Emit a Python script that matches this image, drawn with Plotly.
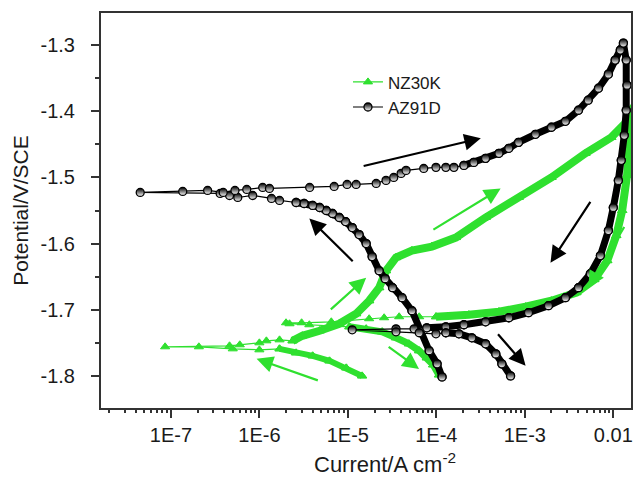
import math
import plotly.graph_objects as go

# ---------------- NZ30K (current density A/cm2, potential V vs SCE), scan order ----------------
nz_cath_fwd_i = [1.45e-5, 9.6e-6, 6.2e-6, 4.0e-6, 2.6e-6, 1.69e-6]
nz_cath_fwd_e = [-1.800, -1.7879, -1.7773, -1.7697, -1.7652, -1.7591]
nz_ecorr_i = [1.0e-6, 5.0e-7, 2.07e-7, 8.6e-8, 4.6e-7, 6.0e-7, 1.0e-6, 1.2e-6, 1.69e-6]
nz_ecorr_e = [-1.7606, -1.7591, -1.756, -1.756, -1.7545, -1.753, -1.750, -1.747, -1.7455]
nz_anod_i = [2.37e-6, 3.06e-6, 4.8e-6, 8.0e-6, 1.24e-5, 1.74e-5, 2.26e-5, 2.7e-5, 3.5e-5,
             5.3e-5, 8.9e-5, 1.66e-4, 3.6e-4, 8.5e-4, 2.0e-3, 4.84e-3, 9.5e-3, 1.36e-2, 1.6e-2]
nz_anod_e = [-1.747, -1.7394, -1.7318, -1.7212, -1.706, -1.6864, -1.6667, -1.641, -1.6212,
             -1.6106, -1.6045, -1.5909, -1.5606, -1.5303, -1.500, -1.4636, -1.4394, -1.4182, -1.3955]
nz_rev_i = [1.55e-2, 1.51e-2, 1.43e-2, 1.26e-2, 1.08e-2, 8.55e-3, 6.1e-3, 3.83e-3, 2.0e-3,
            1.02e-3, 5.1e-4, 2.33e-4, 9.9e-5]
nz_rev_e = [-1.4061, -1.4515, -1.497, -1.550, -1.5879, -1.6258, -1.6545, -1.6742, -1.6864,
            -1.6955, -1.703, -1.7076, -1.7106]
nz_rev_low_i = [6.4e-5, 3.8e-5, 2.57e-5, 1.74e-5, 6.5e-6, 3.0e-6, 2.0e-6, 2.19e-6, 3.67e-6, 6.2e-6]
nz_rev_low_e = [-1.7106, -1.7106, -1.7121, -1.7136, -1.7182, -1.7197, -1.7197, -1.7212, -1.7227, -1.7242]
nz_cath_rev_i = [1.04e-5, 1.61e-5, 2.44e-5, 3.5e-5, 4.9e-5, 6.4e-5, 7.8e-5, 9.2e-5, 1.07e-4]
nz_cath_rev_e = [-1.7258, -1.7288, -1.7333, -1.7424, -1.7515, -1.762, -1.7727, -1.7833, -1.7985]

# ---------------- AZ91D ----------------
az_cath_fwd_i = [1.16e-4, 1.02e-4, 8.3e-5, 6.5e-5, 5.3e-5, 4.1e-5, 3.2e-5, 2.64e-5, 2.26e-5,
                 1.88e-5, 1.61e-5, 1.34e-5, 1.12e-5, 9.4e-6, 8.0e-6, 6.7e-6, 5.7e-6, 4.8e-6,
                 4.0e-6, 3.2e-6, 2.6e-6]
az_cath_fwd_e = [-1.8015, -1.7818, -1.762, -1.7318, -1.7015, -1.6818, -1.6667, -1.653, -1.641,
                 -1.6197, -1.600, -1.5864, -1.5758, -1.5667, -1.5606, -1.5545, -1.550, -1.5455,
                 -1.5424, -1.5394, -1.5379]
az_ecorr_i = [1.69e-6, 1.37e-6, 8.4e-7, 5.7e-7, 4.6e-7, 3.6e-7, 4.5e-8, 1.36e-7, 2.6e-7, 3.9e-7,
              5.3e-7, 7.2e-7, 1.09e-6, 1.30e-6, 3.7e-6, 7.0e-6, 9.8e-6, 1.24e-5, 2.09e-5, 2.7e-5,
              3.3e-5, 4.0e-5, 4.55e-5, 7.2e-5, 9.9e-5, 1.28e-4, 1.58e-4]
az_ecorr_e = [-1.5348, -1.5318, -1.5273, -1.5303, -1.5273, -1.5242, -1.5227, -1.5212, -1.5197, -1.5227,
              -1.5197, -1.5182, -1.5152, -1.5167, -1.5152, -1.5136, -1.5106, -1.5106, -1.5091, -1.5045,
              -1.500, -1.4939, -1.4894, -1.4864, -1.4848, -1.4848, -1.4848]
az_anod_i = [2.05e-4, 2.65e-4, 3.6e-4, 5.1e-4, 6.6e-4, 8.5e-4, 1.32e-3, 2.0e-3, 2.88e-3,
             4.04e-3, 5.2e-3, 6.8e-3, 8.8e-3, 1.05e-2, 1.2e-2, 1.3e-2]
az_anod_e = [-1.4818, -1.4773, -1.4712, -1.4636, -1.456, -1.447, -1.4348, -1.4242, -1.4152,
             -1.3985, -1.3833, -1.3652, -1.3439, -1.3227, -1.3076, -1.297]
az_rev_i = [1.40e-2, 1.43e-2, 1.40e-2, 1.33e-2, 1.23e-2, 1.14e-2, 1.0e-2, 8.8e-3, 7.15e-3, 5.5e-3,
            4.04e-3, 2.88e-3, 1.85e-3, 1.10e-3, 6.6e-4, 3.6e-4, 2.05e-4, 1.28e-4, 7.8e-5]
az_rev_e = [-1.3227, -1.3606, -1.3985, -1.4364, -1.4742, -1.5045, -1.5455, -1.5803, -1.6182, -1.6455,
            -1.6667, -1.6818, -1.6939, -1.7045, -1.7121, -1.7182, -1.7227, -1.7258, -1.7273]
az_rev_low_i = [5.6e-5, 3.5e-5, 1.12e-5, 3.5e-5, 6.4e-5, 9.9e-5]
az_rev_low_e = [-1.7288, -1.7288, -1.7303, -1.7333, -1.7348, -1.7364]
az_cath_rev_i = [1.28e-4, 1.8e-4, 2.52e-4, 3.6e-4, 4.7e-4, 5.5e-4, 6.9e-4]
az_cath_rev_e = [-1.7348, -1.7364, -1.7424, -1.7515, -1.7667, -1.7818, -1.800]

# scan-direction arrows: (tail current, tail potential, head current, head potential)
az_arrows = [(1.18e-5, -1.6288, 3.67e-6, -1.5621),
             (1.45e-5, -1.4833, 3.18e-4, -1.4409),
             (5.65e-3, -1.5348, 1.95e-3, -1.6288),
             (4.81e-4, -1.7348, 1.02e-3, -1.7848)]
nz_arrows = [(4.76e-6, -1.8076, 9.29e-7, -1.7742),
             (6.17e-6, -1.7015, 1.61e-5, -1.6515),
             (8.91e-5, -1.5803, 5.33e-4, -1.5167),
             (1.36e-2, -1.5727, 5.22e-3, -1.6667),
             (2.78e-5, -1.7545, 6.37e-5, -1.7894)]

x_tick_vals = [1e-7, 1e-6, 1e-5, 1e-4, 1e-3, 1e-2]
x_tick_text = ["1E-7", "1E-6", "1E-5", "1E-4", "1E-3", "0.01"]
y_tick_vals = [-1.8, -1.7, -1.6, -1.5, -1.4, -1.3]
y_tick_text = ["-1.8", "-1.7", "-1.6", "-1.5", "-1.4", "-1.3"]
x_title = "Current/A cm<sup>-2</sup>"
y_title = "Potential/V/SCE"

GREEN = "#2fe02f"
BLACK = "#000000"
FONT = "Liberation Sans, Arial, sans-serif"

nz_i = nz_cath_fwd_i + nz_ecorr_i + nz_anod_i + nz_rev_i + nz_rev_low_i + nz_cath_rev_i
nz_e = nz_cath_fwd_e + nz_ecorr_e + nz_anod_e + nz_rev_e + nz_rev_low_e + nz_cath_rev_e
az_i = az_cath_fwd_i + az_ecorr_i + az_anod_i + az_rev_i + az_rev_low_i + az_cath_rev_i
az_e = az_cath_fwd_e + az_ecorr_e + az_anod_e + az_rev_e + az_rev_low_e + az_cath_rev_e

tri = dict(symbol="triangle-up", size=8, color=GREEN, line=dict(color=GREEN, width=1))
circ = dict(symbol="circle", size=8, color=BLACK, line=dict(color=BLACK, width=1.3),
            gradient=dict(type="vertical", color="white"))

fig = go.Figure()

# dense parts of the scans appear as thick bands
def band(xs, ys, color, marker, width):
    fig.add_trace(go.Scatter(x=xs, y=ys, mode="lines+markers", showlegend=False,
                             line=dict(color=color, width=width), marker=marker,
                             hoverinfo="skip"))

band(nz_cath_fwd_i, nz_cath_fwd_e, GREEN, tri, 6)
band(nz_anod_i + nz_rev_i, nz_anod_e + nz_rev_e, GREEN, tri, 8)
band(nz_cath_rev_i, nz_cath_rev_e, GREEN, tri, 7)

fig.add_trace(go.Scatter(x=nz_i, y=nz_e, mode="lines+markers", name="NZ30K",
                         line=dict(color=GREEN, width=1.2), marker=tri))

band(az_cath_fwd_i, az_cath_fwd_e, BLACK, circ, 7)
band(az_anod_i + az_rev_i, az_anod_e + az_rev_e, BLACK, circ, 7)
band(az_cath_rev_i, az_cath_rev_e, BLACK, circ, 7)

fig.add_trace(go.Scatter(x=az_i, y=az_e, mode="lines+markers", name="AZ91D",
                         line=dict(color=BLACK, width=1.2), marker=circ))

# carrier for the minor-tick axis (holds no points)
fig.add_trace(go.Scatter(x=[None], y=[None], xaxis="x2", showlegend=False, hoverinfo="skip"))

annotations = []
for arrows, col in ((az_arrows, BLACK), (nz_arrows, GREEN)):
    for ti, te, hi, he in arrows:
        annotations.append(dict(x=math.log10(hi), y=he, ax=math.log10(ti), ay=te,
                                xref="x", yref="y", axref="x", ayref="y", text="",
                                showarrow=True, arrowhead=2, arrowsize=1.5,
                                arrowwidth=2.2, arrowcolor=col, standoff=0))

# current-axis title, set a little right of centre
annotations.append(dict(text=x_title, xref="paper", yref="paper", x=0.536, y=-0.179,
                        xanchor="center", yanchor="bottom", showarrow=False,
                        font=dict(size=22, family=FONT, color="#1a1a1a")))

# minor decade ticks on the current axis
minor_x = [m * 10.0 ** d for d in range(-8, -1) for m in range(2, 10)]

fig.update_layout(
    width=635, height=479,
    margin=dict(l=101, r=2, t=13, b=71),
    paper_bgcolor="white", plot_bgcolor="white",
    font=dict(family=FONT, size=20, color="#1a1a1a"),
    showlegend=True,
    legend=dict(x=0.466, y=0.87, xanchor="left", yanchor="top",
                bgcolor="rgba(0,0,0,0)", font=dict(size=17, family=FONT),
                tracegroupgap=0),
    annotations=annotations,
    xaxis=dict(type="log", range=[-7.79, -1.80], tickvals=x_tick_vals, ticktext=x_tick_text,
               ticks="outside", ticklen=8, tickwidth=1.5, tickcolor="#333",
               showline=True, linecolor="#333", linewidth=2, mirror=True,
               showgrid=False, zeroline=False),
    xaxis2=dict(type="log", range=[-7.79, -1.80], overlaying="x", anchor="y", side="bottom",
                tickvals=minor_x, ticks="outside", ticklen=4, tickwidth=1.5, tickcolor="#333",
                showticklabels=False, showline=False, showgrid=False, zeroline=False),
    yaxis=dict(range=[-1.8485, -1.2515], tickvals=y_tick_vals, ticktext=y_tick_text,
               ticks="outside", ticklen=8, tickwidth=1.5, tickcolor="#333",
               ticklabelstandoff=12,
               minor=dict(dtick=0.05, tick0=-1.85, ticks="outside", ticklen=4,
                          tickwidth=1.5, tickcolor="#333", showgrid=False),
               showline=True, linecolor="#333", linewidth=2, mirror=True,
               showgrid=False, zeroline=False,
               title=dict(text=y_title, font=dict(size=21), standoff=6)),
)

fig.write_html("out.html")
